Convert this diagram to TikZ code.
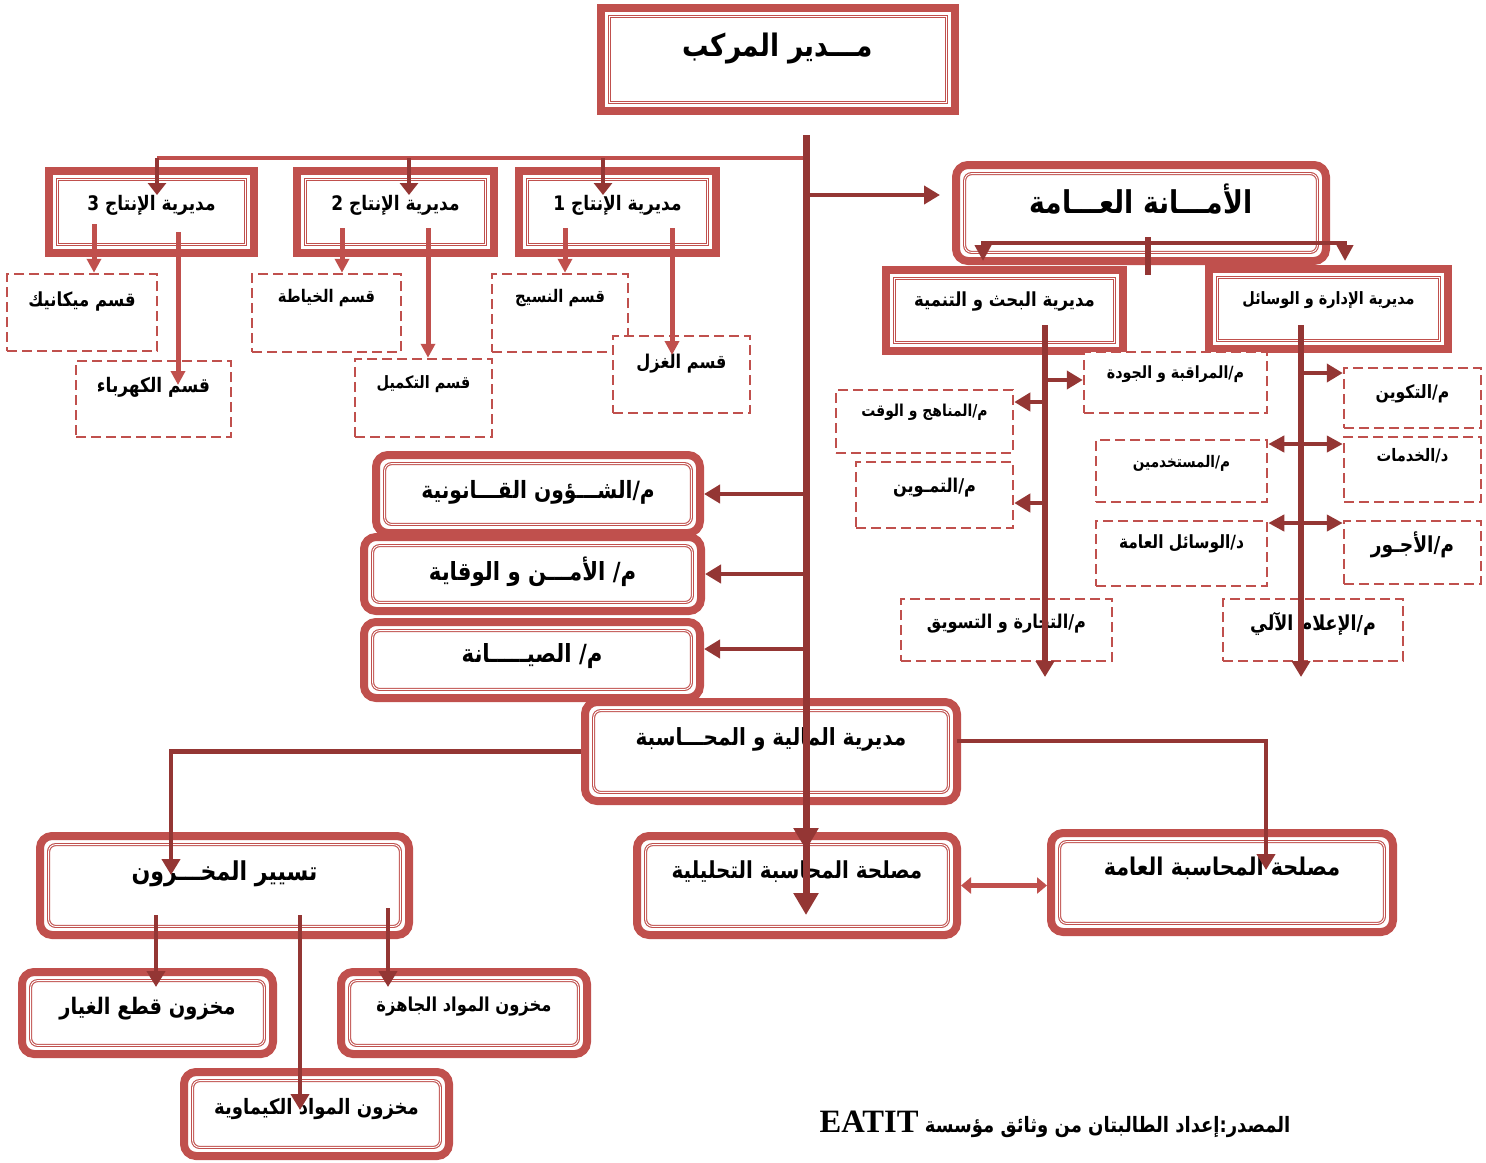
\documentclass[tikz,border=0pt]{standalone}
\usepackage{fontspec}
\setmainfont{Liberation Serif}
\newfontfamily\arabe[Script=Arabic, FakeStretch=0.85]{DejaVu Sans}
\TeXXeTstate=1
\usetikzlibrary{arrows.meta, calc}
\definecolor{rouge}{RGB}{192, 80, 77}
\definecolor{bordeaux}{RGB}{148, 54, 52}
\newcommand{\tam}[1]{\arabe\bfseries\fontsize{#1}{#1}\selectfont}
\tikzset{
  cadre/.style={
    draw=rouge, line width=4pt, fill=white, inner sep=0pt, anchor=base,
    path picture={\draw[rouge, line width=0.55pt, double=white, double distance=0.45pt]
      ([shift={(4.3pt,-4.3pt)}]path picture bounding box.north west) rectangle
      ([shift={(-4.3pt,4.3pt)}]path picture bounding box.south east);}
  },
  cadreR/.style={
    draw=rouge, line width=4pt, fill=white, inner sep=0pt, anchor=base, rounded corners=6pt,
    path picture={\draw[rouge, line width=0.55pt, double=white, double distance=0.45pt, rounded corners=3.5pt]
      ([shift={(4.3pt,-4.3pt)}]path picture bounding box.north west) rectangle
      ([shift={(-4.3pt,4.3pt)}]path picture bounding box.south east);}
  },
  tiret/.style={
    draw=rouge, line width=1.25pt, dash pattern=on 5pt off 2.5pt,
    fill=white, inner sep=0pt, anchor=base
  },
  fleche/.style={draw=bordeaux, line width=2.2pt, -{Triangle[length=8pt, width=9pt]}},
  flecheD/.style={fleche, {Triangle[length=8pt, width=8pt]}-{Triangle[length=8pt, width=8pt]}},
  flecheC/.style={draw=rouge, line width=2.5pt, -{Triangle[length=7pt, width=7pt]}},
  tronc/.style={draw=bordeaux, line width=3.5pt, -{Triangle[length=11pt, width=12pt]}},
  barre/.style={draw=rouge, line width=2pt},
}

\begin{document}
\begin{tikzpicture}[x=0.5pt, y=-0.5pt]
  \useasboundingbox (0,0) rectangle (1486,1162);

  % direction
  \node[cadre, minimum width=177pt, text height=24pt, text depth=27.5pt, font=\tam{15.5}]
    (directeur) at (778,56) {\beginR مـــدير المركب\endR};

  % production
  \node[cadre, minimum width=102.5pt, text height=19.5pt, text depth=21.5pt, font=\tam{10}]
    (prod3) at (151.5,210) {\beginR مديرية الإنتاج 3\endR};
  \node[cadre, minimum width=98.5pt, text height=19.5pt, text depth=21.5pt, font=\tam{10}]
    (prod2) at (395.5,210) {\beginR مديرية الإنتاج 2\endR};
  \node[cadre, minimum width=98.5pt, text height=19.5pt, text depth=21.5pt, font=\tam{10}]
    (prod1) at (617.5,210) {\beginR مديرية الإنتاج 1\endR};

  \node[tiret, minimum width=75pt, text height=16pt, text depth=22.5pt, font=\tam{9.7}]
    (mecanique) at (82,306) {\beginR قسم ميكانيك\endR};
  \node[tiret, minimum width=77.5pt, text height=15.5pt, text depth=22.5pt, font=\tam{10}]
    (kahraba) at (153.5,392) {\beginR قسم الكهرباء\endR};
  \node[tiret, minimum width=74.5pt, text height=14pt, text depth=25pt, font=\tam{8.7}]
    (khiyata) at (326.5,302) {\beginR قسم الخياطة\endR};
  \node[tiret, minimum width=68.5pt, text height=14.5pt, text depth=24.5pt, font=\tam{8.5}]
    (takmil) at (423.5,388) {\beginR قسم التكميل\endR};
  \node[tiret, minimum width=68pt, text height=14pt, text depth=25pt, font=\tam{8.7}]
    (nasij) at (560,302) {\beginR قسم النسيج\endR};
  \node[tiret, minimum width=68.5pt, text height=16pt, text depth=22.5pt, font=\tam{9.5}]
    (ghazl) at (681.5,368) {\beginR قسم الغزل\endR};

  % secretariat
  \node[cadreR, minimum width=185pt, text height=24pt, text depth=24pt, font=\tam{15.7}]
    (amana) at (1141,213) {\beginR الأمـــانة العـــامة\endR};
  \node[cadre, minimum width=118.5pt, text height=18pt, text depth=22.5pt, font=\tam{9.7}]
    (bahth) at (1004.5,306) {\beginR مديرية البحث و التنمية\endR};
  \node[cadre, minimum width=119.5pt, text height=17.5pt, text depth=22.5pt, font=\tam{8.5}]
    (idara) at (1328.5,304) {\beginR مديرية الإدارة و الوسائل\endR};

  \node[tiret, minimum width=91.5pt, text height=13pt, text depth=17.5pt, font=\tam{8.4}]
    (muraqaba) at (1175.5,378) {\beginR م/المراقبة و الجودة\endR};
  \node[tiret, minimum width=88.5pt, text height=13pt, text depth=18.5pt, font=\tam{8.2}]
    (manahij) at (924.5,416) {\beginR م/المناهج و الوقت\endR};
  \node[tiret, minimum width=78.5pt, text height=15pt, text depth=18pt, font=\tam{9.5}]
    (tamwin) at (934.5,492) {\beginR م/التمـوين\endR};
  \node[tiret, minimum width=68.5pt, text height=15pt, text depth=15pt, font=\tam{9.2}]
    (takwin) at (1412.5,398) {\beginR م/التكوين\endR};
  \node[tiret, minimum width=85.5pt, text height=13.5pt, text depth=17.5pt, font=\tam{8}]
    (mustakhdim) at (1181.5,467) {\beginR م/المستخدمين\endR};
  \node[tiret, minimum width=68.5pt, text height=12pt, text depth=20.5pt, font=\tam{8.6}]
    (khadamat) at (1412.5,461) {\beginR د/الخدمات\endR};
  \node[tiret, minimum width=85.5pt, text height=13.5pt, text depth=19pt, font=\tam{9.1}]
    (wasail) at (1181.5,548) {\beginR د/الوسائل العامة\endR};
  \node[tiret, minimum width=68.5pt, text height=15.5pt, text depth=16pt, font=\tam{11}]
    (ujur) at (1412.5,552) {\beginR م/الأجـور\endR};
  \node[tiret, minimum width=105.5pt, text height=14.5pt, text depth=16.5pt, font=\tam{9.5}]
    (tijara) at (1006.5,628) {\beginR م/التجارة و التسويق\endR};
  \node[tiret, minimum width=90pt, text height=15.5pt, text depth=15.5pt, font=\tam{10.3}]
    (ilam) at (1313,630) {\beginR م/الإعلام الآلي\endR};

  % services rattaches
  \node[cadreR, minimum width=162pt, text height=21.5pt, text depth=17.5pt, font=\tam{11.9}]
    (qanun) at (538,498) {\beginR م/الشـــؤون القـــانونية\endR};
  \node[cadreR, minimum width=168.5pt, text height=21.5pt, text depth=15.5pt, font=\tam{12.5}]
    (amn) at (532.5,580) {\beginR م/ الأمـــن و الوقاية\endR};
  \node[cadreR, minimum width=168pt, text height=20pt, text depth=18pt, font=\tam{12.5}]
    (siyana) at (532,662) {\beginR م/ الصيـــــانة\endR};

  % finances
  \node[cadreR, minimum width=186pt, text height=21.5pt, text depth=28pt, font=\tam{11.8}]
    (maliya) at (771,745) {\beginR مديرية المالية و المحـــاسبة\endR};
  \node[cadreR, minimum width=184.5pt, text height=22pt, text depth=27.5pt, font=\tam{13}]
    (makhzun) at (224.5,880) {\beginR تسيير المخـــزون\endR};
  \node[cadreR, minimum width=160pt, text height=21pt, text depth=28.5pt, font=\tam{11.7}]
    (tahlil) at (797,878) {\beginR مصلحة المحاسبة التحليلية\endR};
  \node[cadreR, minimum width=171pt, text height=21pt, text depth=28.5pt, font=\tam{12.2}]
    (amma) at (1222,875) {\beginR مصلحة المحاسبة  العامة\endR};
  \node[cadreR, minimum width=125.5pt, text height=21pt, text depth=20pt, font=\tam{11.4}]
    (ghiyar) at (147.5,1014) {\beginR مخزون قطع الغيار\endR};
  \node[cadreR, minimum width=123pt, text height=19.5pt, text depth=21.5pt, font=\tam{9.6}]
    (jahiza) at (464,1011) {\beginR مخزون المواد الجاهزة\endR};
  \node[cadreR, minimum width=132.5pt, text height=21pt, text depth=21pt, font=\tam{10.6}]
    (kimya) at (316.5,1114) {\beginR مخزون المواد الكيماوية\endR};

  \node[anchor=base, inner sep=0pt, font=\tam{10.6}] (source) at (1055,1132)
    {\beginR المصدر:إعداد الطالبتان من وثائق مؤسسة \beginL{\rmfamily\bfseries\fontsize{16.3}{16.3}\selectfont EATIT}\endL\endR};

  % points des liaisons
  \coordinate (t0) at (806,135);
  \coordinate (t1) at (806,850);
  \coordinate (t2) at (806,835);
  \coordinate (t3) at (806,915);
  \coordinate (b0) at (806,158);
  \coordinate (e3) at (157,195);
  \coordinate (e2) at (409,195);
  \coordinate (e1) at (603,195);
  \coordinate (d1) at (94,224);
  \coordinate (d2) at (178,232);
  \coordinate (d2b) at (178,385);
  \coordinate (d3) at (342,228);
  \coordinate (d4) at (428,228);
  \coordinate (d5) at (565,228);
  \coordinate (d6) at (672,228);
  \coordinate (d6b) at (672,355);
  \coordinate (a0) at (940,195);
  \coordinate (g1) at (983,261);
  \coordinate (g2) at (1345,261);
  \coordinate (gh) at (1148,243);
  \coordinate (s1) at (1148,237);
  \coordinate (s2) at (1148,275);
  \coordinate (v0) at (1045,325);
  \coordinate (v1) at (1045,677);
  \coordinate (m0) at (1045,380);
  \coordinate (m1) at (1045,402);
  \coordinate (m2) at (1045,503);
  \coordinate (w0) at (1301,325);
  \coordinate (w1) at (1301,677);
  \coordinate (n0) at (1301,373);
  \coordinate (n1) at (1301,444);
  \coordinate (n2) at (1301,523);
  \coordinate (q3) at (806,649);
  \coordinate (k1) at (171,875);
  \coordinate (k2a) at (957,741);
  \coordinate (k2) at (1266,870);
  \coordinate (z1) at (156,915);
  \coordinate (z1b) at (156,987);
  \coordinate (z2) at (300,915);
  \coordinate (z2b) at (300,1110);
  \coordinate (z3) at (388,908);
  \coordinate (z3b) at (388,987);

  % liaisons
  \draw[barre] (b0) -- (b0 -| e3);
  \draw[fleche, -{Triangle[length=6pt, width=9pt]}] (b0 -| e3) -- (e3);
  \draw[fleche, -{Triangle[length=6pt, width=9pt]}] (b0 -| e2) -- (e2);
  \draw[fleche, -{Triangle[length=6pt, width=9pt]}] (b0 -| e1) -- (e1);

  \draw[flecheC] (d1) -- (d1 |- mecanique.north);
  \draw[flecheC] (d2) -- (d2b);
  \draw[flecheC] (d3) -- (d3 |- khiyata.north);
  \draw[flecheC] (d4) -- (d4 |- takmil.north);
  \draw[flecheC] (d5) -- (d5 |- nasij.north);
  \draw[flecheC] (d6) -- (d6b);

  \draw[fleche] (t0 |- a0) -- (a0);
  \draw[flecheD] (g1) |- (gh) -| (g2);
  \draw[bordeaux, line width=3pt] (s1) -- (s2);

  \draw[fleche, line width=3pt] (v0) -- (v1);
  \draw[fleche] (m0) -- (m0 -| muraqaba.west);
  \draw[fleche] (m1) -- (m1 -| manahij.east);
  \draw[fleche] (m2) -- (m2 -| tamwin.east);
  \draw[fleche, line width=3pt] (w0) -- (w1);
  \draw[fleche] (n0) -- (n0 -| takwin.west);
  \draw[flecheD] (n1 -| mustakhdim.east) -- (n1 -| khadamat.west);
  \draw[flecheD] (n2 -| wasail.east) -- (n2 -| ujur.west);

  \draw[fleche] (t0 |- qanun.east) -- (qanun.east);
  \draw[fleche] (t0 |- amn.east) -- (amn.east);
  \draw[fleche] (q3) -- (q3 -| siyana.east);

  \draw[fleche] (maliya.west) -| (k1);
  \draw[fleche] (k2a) -| (k2);
  \draw[flecheC, {Triangle[length=5pt, width=8pt]}-{Triangle[length=5pt, width=8pt]}]
    (tahlil.east) -- (tahlil.east -| amma.west);
  \draw[fleche] (z1) -- (z1b);
  \draw[fleche] (z2) -- (z2b);
  \draw[fleche] (z3) -- (z3b);

  \draw[tronc] (t0) -- (t1);
  \draw[tronc] (t2) -- (t3);
\end{tikzpicture}
\end{document}
